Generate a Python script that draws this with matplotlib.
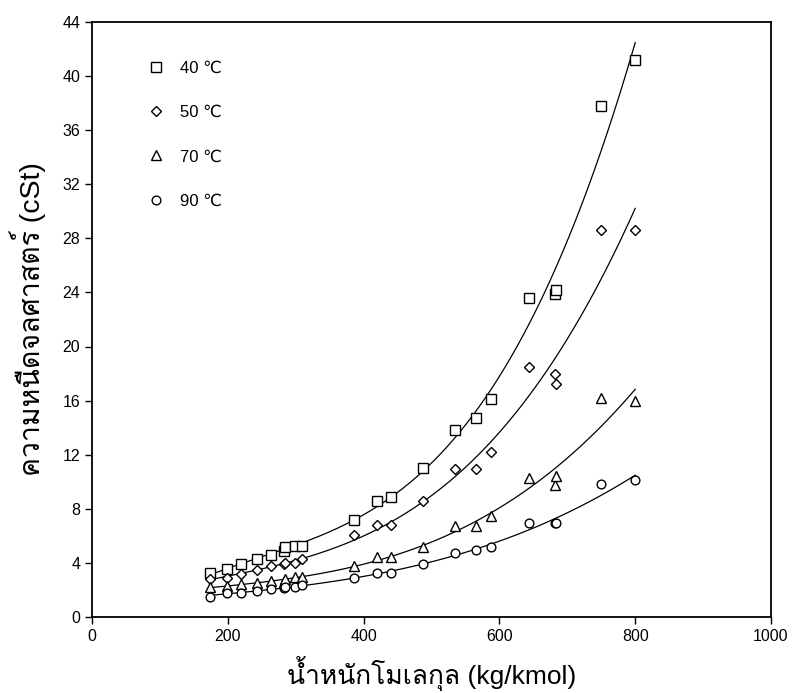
import numpy as np
import matplotlib
matplotlib.use("Agg")
import matplotlib.pyplot as plt
from matplotlib import font_manager
from matplotlib.ft2font import FT2Font

# น้ำหนักโมเลกุล (kg/kmol)
mw = [174, 198, 219, 243, 264, 283, 284, 299, 309, 386, 420, 440, 488,
      534, 566, 588, 644, 682, 684, 750, 800]

# ความหนืดจลศาสตร์ (cSt) ที่แต่ละอุณหภูมิ
visc_40 = [3.25, 3.55, 3.88, 4.25, 4.56, 4.88, 5.18, 5.25, 5.25, 7.15, 8.58, 8.85,
           10.98, 13.8, 14.7, 16.15, 23.6, 23.9, 24.2, 37.8, 41.2]
visc_50 = [2.76, 2.9, 3.2, 3.45, 3.77, 3.9, 4.0, 4.0, 4.3, 6.04, 6.78, 6.76,
           8.6, 10.9, 10.9, 12.2, 18.45, 17.95, 17.26, 28.6, 28.6]
visc_70 = [2.17, 2.27, 2.39, 2.52, 2.64, 2.6, 2.8, 2.91, 2.96, 3.75, 4.39, 4.44,
           5.18, 6.73, 6.73, 7.47, 10.3, 9.76, 10.4, 16.2, 15.95]
visc_90 = [1.48, 1.78, 1.78, 1.92, 2.07, 2.1, 2.17, 2.22, 2.34, 2.88, 3.25, 3.25,
           3.88, 4.69, 4.91, 5.16, 6.93, 6.93, 6.93, 9.8, 10.1]

labels = ["40 \u2103", "50 \u2103", "70 \u2103", "90 \u2103"]
markers = ["s", "D", "^", "o"]
msizes = [6.5, 5.5, 7.0, 6.3]


def find_thai_font():
    for f in font_manager.fontManager.ttflist:
        try:
            cmap = FT2Font(f.fname).get_charmap()
        except Exception:
            continue
        if 0x0E01 in cmap and 0x0E19 in cmap:
            return f.name
    return "DejaVu Sans"


thai = find_thai_font()
fams = ["Liberation Sans", thai, "DejaVu Sans"]
plt.rcParams["font.family"] = fams

fig = plt.figure(figsize=(7.94, 6.93), dpi=100)
ax = fig.add_axes([0.116, 0.110, 0.855, 0.858])

x = np.array(mw, dtype=float)
xs = np.linspace(x.min(), x.max(), 200)
for y, lab, m, ms in zip([visc_40, visc_50, visc_70, visc_90], labels, markers, msizes):
    y = np.array(y)
    # เส้นแนวโน้มพหุนามกำลังสาม
    coef = np.polyfit(x, y, 3)
    ax.plot(xs, np.polyval(coef, xs), color="black", lw=0.9)
    ax.plot(x, y, linestyle="none", marker=m, ms=ms, mfc="white", mec="black",
            mew=1.0, label=lab)

ax.set_xlim(0, 1000)
ax.set_ylim(0, 44)
ax.set_xticks(np.arange(0, 1001, 200))
ax.set_yticks(np.arange(0, 45, 4))
ax.tick_params(direction="out", length=5, width=1, labelsize=11.5)
for s in ax.spines.values():
    s.set_linewidth(1.3)

ax.set_xlabel("น้ำหนักโมเลกุล (kg/kmol)", fontsize=19, labelpad=9)
ax.set_ylabel("ความหนืดจลศาสตร์ (cSt)", fontsize=20.5, labelpad=12)

ax.legend(loc="upper left", bbox_to_anchor=(0.06, 0.96), frameon=False,
          labelspacing=1.75, handletextpad=0.9, handlelength=1.0,
          prop={"family": fams, "size": 12})

fig.savefig("out.png", dpi=100)
